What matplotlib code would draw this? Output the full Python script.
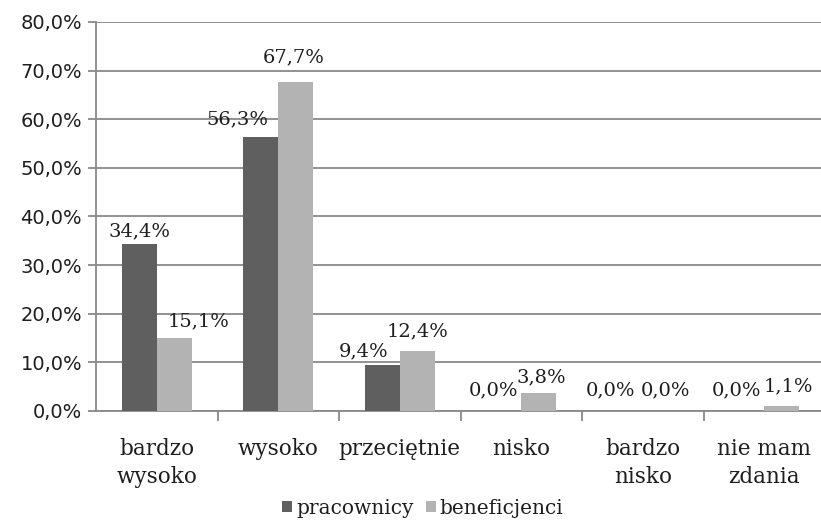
import matplotlib.pyplot as plt
import numpy as np

categories = ['bardzo\nwysoko', 'wysoko', 'przeciętnie', 'nisko', 'bardzo\nnisko', 'nie mam\nzdania']
pracownicy = [34.4, 56.3, 9.4, 0.0, 0.0, 0.0]
beneficjenci = [15.1, 67.7, 12.4, 3.8, 0.0, 1.1]
series_names = ['pracownicy', 'beneficjenci']

# label nudges in pixels (x, y above bar top), Excel shuffles them to avoid overlap
off_prac = [(0, 12), (-23, 18), (-19, 14), (-10, 21), (-15, 21), (-10, 21)]
off_bene = [(24, 16), (-2, 24), (0, 19), (2, 15), (5, 21), (6, 19)]

plt.rcParams['font.family'] = ['DejaVu Serif']

dark = '#5f5f5f'
light = '#b3b3b3'
grid = '#898989'
txt = '#1e1e1e'

fig = plt.figure(figsize=(8.21, 5.2), dpi=100)
ax = fig.add_axes([96 / 821, 1 - 411 / 520, 725 / 821, 389 / 520])

x = np.arange(len(categories))
w = 0.29
b1 = ax.bar(x - w / 2, pracownicy, w, color=dark, label=series_names[0], zorder=3)
b2 = ax.bar(x + w / 2, beneficjenci, w, color=light, label=series_names[1], zorder=3)

px = 0.72  # points per pixel at 100 dpi
for bars, vals, offs in [(b1, pracownicy, off_prac), (b2, beneficjenci, off_bene)]:
    for rect, v, (dx, dy) in zip(bars, vals, offs):
        ax.annotate(f'{v:.1f}%'.replace('.', ','),
                    (rect.get_x() + rect.get_width() / 2, v),
                    xytext=(dx * px, dy * px), textcoords='offset points',
                    ha='center', va='center', fontsize=14, color=txt)

ax.set_ylim(0, 80)
ax.set_xlim(-0.5, 5.467)
ax.set_yticks(np.arange(0, 81, 10))
ax.set_yticklabels([f'{v:.1f}%'.replace('.', ',') for v in np.arange(0, 81, 10)],
                   fontsize=14, color=txt, family='DejaVu Sans')
ax.yaxis.grid(True, color=grid, linewidth=1.3, zorder=0)
ax.tick_params(axis='y', length=6, color=grid, width=1.3, pad=4)

ax.set_xticks(x)
ax.set_xticklabels(categories, fontsize=15.5, color=txt, linespacing=1.35)
ax.tick_params(axis='x', which='major', length=0, pad=19.5)
ax.set_xticks(np.arange(0.5, 5.5, 1), minor=True)
ax.tick_params(axis='x', which='minor', length=7, color=grid, width=1.3)

for s in ['top', 'right']:
    ax.spines[s].set_visible(False)
for s in ['left', 'bottom']:
    ax.spines[s].set_color(grid)
    ax.spines[s].set_linewidth(1.3)

leg = fig.legend(loc='center', bbox_to_anchor=(0.515, 0.023), ncol=2, frameon=False,
                 fontsize=14.5, handlelength=0.5, handleheight=0.5, handletextpad=0.2,
                 columnspacing=0.6, borderpad=0)
for t in leg.get_texts():
    t.set_color(txt)

fig.savefig('out.png', dpi=100)
